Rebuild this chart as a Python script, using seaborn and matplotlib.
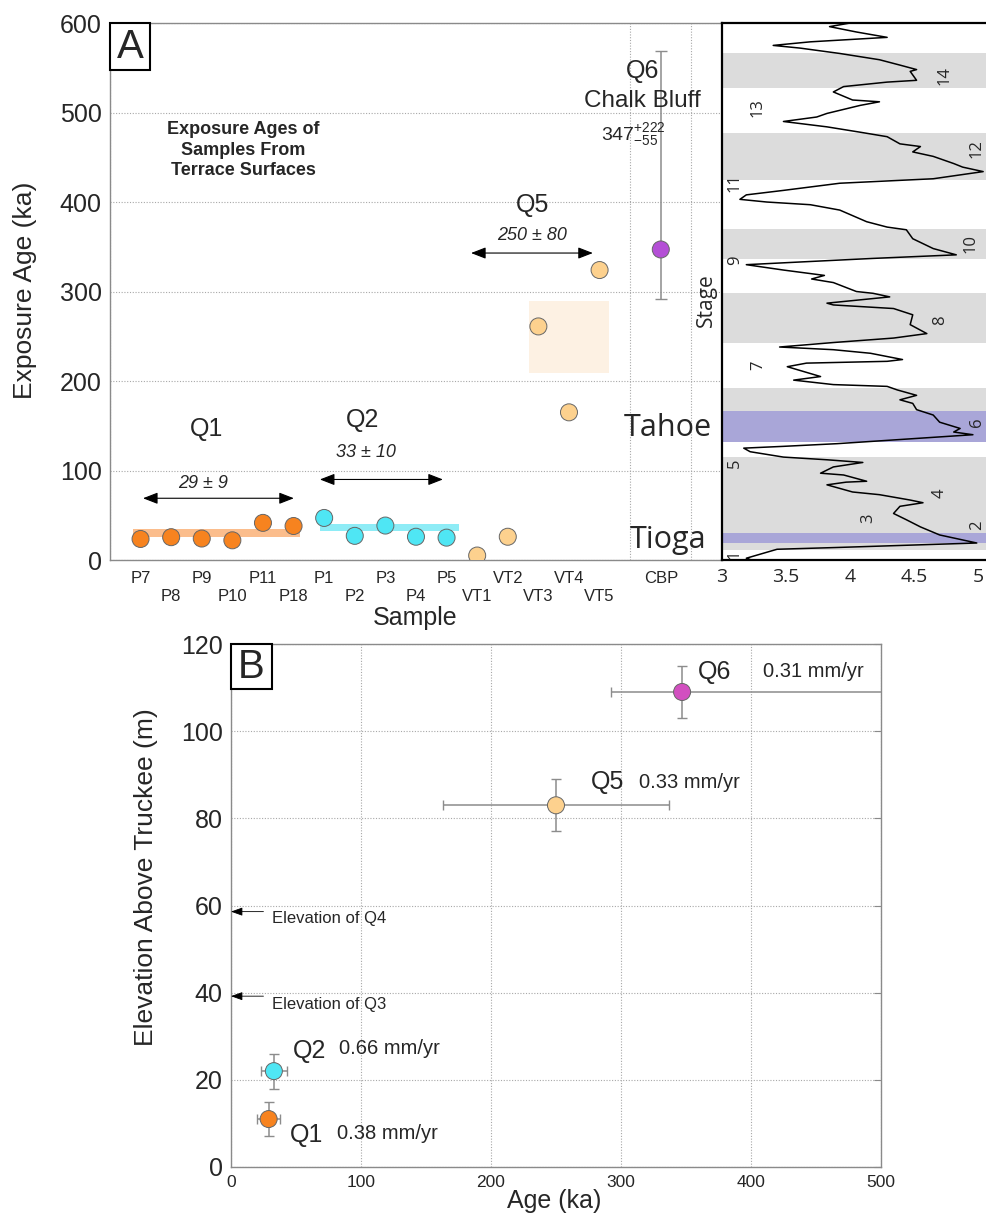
import numpy as np
import pandas as pd
import seaborn as sns
import matplotlib.pyplot as plt
from matplotlib.patches import Rectangle

# ---- Panel A: exposure ages of individual samples ----
samples = ["P7", "P8", "P9", "P10", "P11", "P18", "P1", "P2", "P3", "P4", "P5",
           "VT1", "VT2", "VT3", "VT4", "VT5", "CBP"]
sample_pos = [1, 2, 3, 4, 5, 6, 7, 8, 9, 10, 11, 12, 13, 14, 15, 16, 18]
sample_age = [23.5, 25.5, 24, 22, 41.5, 38, 47, 27, 38.5, 26, 25,
              5, 26, 261, 165, 324, 347]
sample_group = ["Q1"] * 6 + ["Q2"] * 5 + ["Q5"] * 5 + ["Q6"]
cbp_err = [55, 222]

# mean bands (x from, x to, age lo, age hi)
q1_band = [0.75, 6.2, 25.5, 35]
q2_band = [6.85, 11.4, 32.5, 40]
q5_box = [13.7, 16.3, 209, 289]

# ---- Stacked benthic d18O curve ----
curve_age = [0, 2, 12, 14, 19, 28, 37, 45, 52, 60, 64, 67, 73, 76, 84, 87, 88,
             95, 97, 104, 109, 112, 115, 121, 125, 127, 130, 140, 143, 147, 154,
             162, 168, 175, 179, 184, 190, 194, 196, 201, 205, 216, 220, 222, 224,
             231, 235, 238, 243, 248, 253, 263, 274, 281, 285, 287, 294, 298, 300,
             310, 314, 318, 324, 330, 333, 337, 341, 348, 359, 369, 372, 378, 391,
             397, 400, 403, 408, 413, 421, 426, 434, 439, 443, 451, 456, 462, 465,
             473, 478, 484, 490, 495, 499, 508, 512, 514, 523, 529, 534, 536, 546,
             548, 553, 559, 566, 572, 575, 579, 584, 590, 596, 600]
curve_d18o = [3.23, 3.19, 3.43, 3.90, 4.99, 4.70, 4.55, 4.44, 4.34, 4.39, 4.57,
              4.47, 4.23, 4.02, 3.82, 3.97, 4.13, 3.95, 3.77, 3.87, 4.10, 3.82,
              3.48, 3.22, 3.17, 3.48, 3.90, 4.96, 4.81, 4.86, 4.70, 4.65, 4.52,
              4.49, 4.39, 4.52, 4.37, 4.29, 3.87, 3.56, 3.77, 3.51, 3.66, 4.29,
              4.41, 4.16, 3.87, 3.45, 3.87, 4.34, 4.60, 4.47, 4.49, 4.34, 3.87,
              3.82, 4.31, 4.18, 4.05, 3.87, 3.70, 3.80, 3.48, 3.19, 3.61, 4.18,
              4.83, 4.65, 4.49, 4.44, 4.29, 4.13, 3.92, 3.69, 3.35, 3.14, 3.19,
              3.48, 3.92, 4.65, 5.04, 4.88, 4.81, 4.65, 4.49, 4.55, 4.39, 4.29,
              4.08, 3.82, 3.48, 3.74, 3.82, 4.08, 4.23, 4.02, 3.87, 3.95, 4.29,
              4.52, 4.47, 4.52, 4.39, 4.23, 3.92, 3.61, 3.40, 3.69, 4.29, 4.05,
              3.84, 4.00]
glacial_bands = [(11, 115), (166, 192), (243, 298), (336, 370), (425, 477), (527, 566)]
moraine_bands = [(19, 30), (132, 166)]
stage_labels = ["1", "2", "3", "4", "5", "6", "7", "8", "9", "10", "11", "12", "13", "14"]
stage_x = [3.10, 4.99, 4.14, 4.70, 3.10, 4.99, 3.28, 4.70, 3.10, 4.94, 3.10, 4.99, 3.28, 4.74]
stage_y = [6, 39, 47, 75, 108, 154, 218, 268, 335, 354, 422, 460, 505, 541]

# ---- Panel B: elevation vs age ----
terrace = ["Q1", "Q2", "Q5", "Q6"]
terr_age = [29, 33, 250, 347]
terr_age_lo = [9, 10, 87, 55]
terr_age_hi = [9, 10, 87, 222]
terr_elev = [11, 22, 83, 109]
terr_elev_err = [4, 4, 6, 6]
rates = ["0.38 mm/yr", "0.66 mm/yr", "0.33 mm/yr", "0.31 mm/yr"]

colors_a = {"Q1": "#f7831f", "Q2": "#4fe6f4", "Q5": "#fdd18e", "Q6": "#b44fd6"}
colors_b = {"Q1": "#f7831f", "Q2": "#4fe6f4", "Q5": "#fdd18e", "Q6": "#d24fc0"}

sns.set_style("white")
plt.rcParams['font.family'] = ['Liberation Sans', 'DejaVu Sans']
plt.rcParams['mathtext.fontset'] = 'custom'
plt.rcParams['mathtext.rm'] = 'Liberation Sans'
plt.rcParams['mathtext.it'] = 'Liberation Sans:italic'
myriad = ['Open Sans', 'DejaVu Sans']

fig = plt.figure(figsize=(9.87, 12.19), dpi=100)
axA = fig.add_axes([0.1114, 0.5406, 0.6201, 0.4405])
axC = fig.add_axes([0.7315, 0.5406, 0.2685, 0.4405])
axB = fig.add_axes([0.2340, 0.04266, 0.6586, 0.4290])

grid_kw = dict(color="#a8a8a8", linestyle=(0, (1, 1.5)), linewidth=0.8)

# ================= Panel A =================
dfA = pd.DataFrame({"pos": sample_pos, "age": sample_age, "group": sample_group})
axA.set_xlim(0, 20)
axA.set_ylim(0, 600)
axA.set_xticks(range(0, 21), minor=True)
axA.grid(which="minor", axis="x", **grid_kw)
axA.set_yticks(range(0, 601, 100))
axA.grid(which="major", axis="y", **grid_kw)
axA.set_axisbelow(True)

axA.add_patch(Rectangle((q1_band[0], q1_band[2]), q1_band[1] - q1_band[0],
                        q1_band[3] - q1_band[2], color="#fbbd8c", lw=0, zorder=1))
axA.add_patch(Rectangle((q2_band[0], q2_band[2]), q2_band[1] - q2_band[0],
                        q2_band[3] - q2_band[2], color="#8eecf6", lw=0, zorder=1))
axA.add_patch(Rectangle((q5_box[0], q5_box[2]), q5_box[1] - q5_box[0],
                        q5_box[3] - q5_box[2], color="#fdf1e3", lw=0, zorder=1))

axA.errorbar(sample_pos[-1], sample_age[-1], yerr=[[cbp_err[0]], [cbp_err[1]]],
             fmt="none", ecolor="#8c8c8c", elinewidth=1.1, capsize=4, zorder=2)
sns.scatterplot(data=dfA, x="pos", y="age", hue="group", palette=colors_a, s=150,
                edgecolor="#666666", linewidth=0.7, legend=False, zorder=3, ax=axA)

tick_lbls = [("\n" + s if i % 2 else s) for i, s in enumerate(samples)]
axA.set_xticks(sample_pos)
axA.set_xticklabels(tick_lbls, fontsize=12, linespacing=1.2)
axA.tick_params(axis="x", which="both", length=0, pad=8)
axA.tick_params(axis="y", length=0, labelsize=18, pad=6)
for side in ["left", "bottom", "top"]:
    axA.spines[side].set_color("#8a8a8a")
    axA.spines[side].set_linewidth(1)
axA.spines["right"].set_visible(False)
axA.set_xlabel("Sample", fontsize=18)
axA.xaxis.set_label_coords(0.498, -0.085)
axA.set_ylabel("Exposure Age (ka)", fontsize=19)
axA.yaxis.set_label_coords(-0.12, 0.503)

arrow_kw = dict(arrowstyle="<|-|>,head_length=0.9,head_width=0.35", color="black", lw=0.8,
                shrinkA=0, shrinkB=0)
axA.annotate("", xy=(6.01, 69), xytext=(1.08, 69), arrowprops=arrow_kw)
axA.annotate("", xy=(10.88, 90), xytext=(6.86, 90), arrowprops=arrow_kw)
axA.annotate("", xy=(15.78, 343), xytext=(11.8, 343), arrowprops=arrow_kw)

axA.text(3.17, 146, "Q1", fontsize=18, ha="center", va="center")
axA.text(3.04, 85, "29 ± 9", fontsize=13, style="italic", ha="center", va="center")
axA.text(8.27, 156, "Q2", fontsize=18, ha="center", va="center")
axA.text(8.37, 120, "33 ± 10", fontsize=13, style="italic", ha="center", va="center")
axA.text(13.8, 397, "Q5", fontsize=18, ha="center", va="center")
axA.text(13.8, 363, "250 ± 80", fontsize=13, style="italic", ha="center", va="center")
axA.text(17.4, 546, "Q6", fontsize=18, ha="center", va="center")
axA.text(17.4, 513, "Chalk Bluff", fontsize=17.5, ha="center", va="center")
axA.text(17.1, 475, r"$\mathit{347}^{+222}_{-55}$", fontsize=14, ha="center", va="center")
axA.text(4.35, 458, "Exposure Ages of\nSamples From\nTerrace Surfaces", fontsize=13,
         fontweight="bold", ha="center", va="center", linespacing=1.25)
axA.text(18.24, 147, "Tahoe", fontsize=22, family=myriad, ha="center", va="center", zorder=5)
axA.text(18.24, 22, "Tioga", fontsize=22, family=myriad, ha="center", va="center", zorder=5)

axA.add_patch(Rectangle((0, 1 - 0.0875), 0.0654, 0.0875, transform=axA.transAxes,
                        fc="white", ec="black", lw=1.5, zorder=6, clip_on=False))
axA.text(0.0327, 1 - 0.0437, "A", transform=axA.transAxes, fontsize=29,
         ha="center", va="center", zorder=7)

# ================= d18O curve panel =================
axC.set_xlim(3, 5.07)
axC.set_ylim(0, 600)
for lo, hi in glacial_bands:
    axC.axhspan(lo, hi, color="#dcdcdc", lw=0, zorder=0)
for lo, hi in moraine_bands:
    axC.axhspan(lo, hi, color="#a9a6d8", lw=0, zorder=0.5)
sns.lineplot(x=curve_d18o, y=curve_age, sort=False, estimator=None, color="black",
             lw=1.1, ax=axC, zorder=3)
for lbl, sx, sy in zip(stage_labels, stage_x, stage_y):
    axC.text(sx, sy, lbl, fontsize=12, family=myriad, rotation=90,
             ha="center", va="center", zorder=4)
axC.set_xticks([3, 3.5, 4, 4.5, 5])
axC.set_xticklabels(["3", "3.5", "4", "4.5", "5"], family=myriad)
axC.set_yticks([200, 400])
axC.set_yticklabels([])
axC.tick_params(axis="x", direction="in", length=11, width=1.2, labelsize=14, pad=6,
                color="black")
axC.tick_params(axis="y", direction="inout", length=14, width=1, color="black")
for side in ["left", "bottom", "top"]:
    axC.spines[side].set_color("black")
    axC.spines[side].set_linewidth(1.6)
axC.spines["right"].set_visible(False)
axC.set_ylabel("Stage", fontsize=15, family=myriad)
axC.yaxis.set_label_coords(-0.02, 0.484)

# ================= Panel B =================
dfB = pd.DataFrame({"terrace": terrace, "age": terr_age, "elev": terr_elev})
axB.set_xlim(0, 500)
axB.set_ylim(0, 120)
axB.set_xticks(range(0, 501, 100))
axB.set_yticks(range(0, 121, 20))
axB.grid(True, **grid_kw)
axB.set_axisbelow(True)
axB.errorbar(terr_age, terr_elev, xerr=[terr_age_lo, terr_age_hi], yerr=terr_elev_err,
             fmt="none", ecolor="#8c8c8c", elinewidth=1.1, capsize=3.5, zorder=2)
sns.scatterplot(data=dfB, x="age", y="elev", hue="terrace", palette=colors_b, s=150,
                edgecolor="#666666", linewidth=0.7, legend=False, zorder=3, ax=axB)

lbl_off = {"Q1": (16, -3.7), "Q2": (14.5, 4.6), "Q5": (26.5, 5.3), "Q6": (12, 4.5)}
rate_off = {"Q1": (91, -3.4), "Q2": (89, 5.3), "Q5": (103, 5.3), "Q6": (101, 4.8)}
for t, a, e, r in zip(terrace, terr_age, terr_elev, rates):
    axB.text(a + lbl_off[t][0], e + lbl_off[t][1], t, fontsize=18, ha="left", va="center")
    axB.text(a + rate_off[t][0], e + rate_off[t][1], r, fontsize=14.5, ha="center",
             va="center")

elev_arrow = dict(arrowstyle="-|>,head_length=0.7,head_width=0.25", color="black", lw=0.6,
                  shrinkA=0, shrinkB=0)
axB.annotate("", xy=(0, 58.6), xytext=(25, 58.6), arrowprops=elev_arrow)
axB.annotate("", xy=(0, 39.2), xytext=(25, 39.2), arrowprops=elev_arrow)
axB.text(31.5, 57, "Elevation of Q4", fontsize=12, ha="left", va="center")
axB.text(31.5, 37.4, "Elevation of Q3", fontsize=12, ha="left", va="center")

axB.tick_params(axis="x", length=0, labelsize=12.5, pad=6)
axB.tick_params(axis="y", length=0, labelsize=18, pad=6)
axB.tick_params(axis="y", which="major", right=True, direction="in", length=5,
                color="#8a8a8a")
for side in axB.spines:
    axB.spines[side].set_color("#8a8a8a")
    axB.spines[side].set_linewidth(1)
axB.set_xlabel("Age (ka)", fontsize=18)
axB.xaxis.set_label_coords(0.498, -0.042)
axB.set_ylabel("Elevation Above Truckee (m)", fontsize=19)
axB.yaxis.set_label_coords(-0.113, 0.555)

axB.add_patch(Rectangle((0, 1 - 0.086), 0.063, 0.086, transform=axB.transAxes,
                        fc="white", ec="black", lw=1.5, zorder=6, clip_on=False))
axB.text(0.0315, 1 - 0.043, "B", transform=axB.transAxes, fontsize=29,
         ha="center", va="center", zorder=7)

fig.savefig("out.png", dpi=100)
